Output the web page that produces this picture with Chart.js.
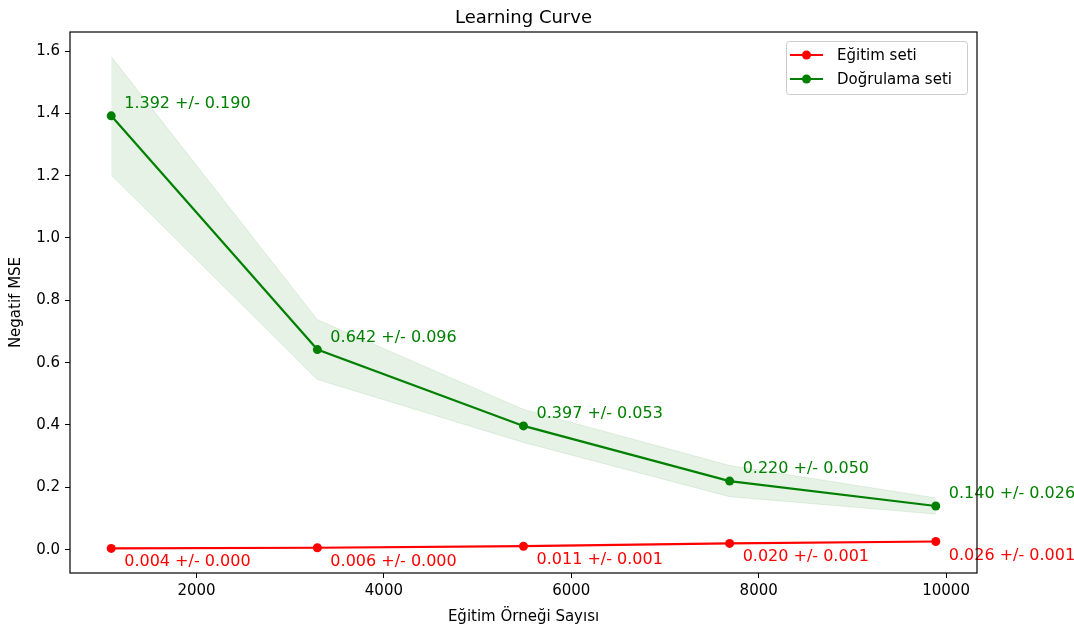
<!DOCTYPE html>
<html lang="tr">
<head>
<meta charset="UTF-8">
<title>Learning Curve</title>
<script src="https://cdn.jsdelivr.net/npm/chart.js@4.4.0/dist/chart.umd.min.js"></script>
<style>
  html, body { margin: 0; padding: 0; background: #fff; }
  #wrap { width: 1074px; height: 633px; position: relative; }
</style>
</head>
<body>
<div id="wrap"><canvas id="lc"></canvas></div>
<script>
// Eğitim örneği sayıları (x ekseni)
const trainSizes = [1090, 3290, 5490, 7690, 9890];

// Eğitim seti: ortalama ve std
const trainMean = [0.004, 0.006, 0.011, 0.020, 0.026];
const trainStd  = [0.000, 0.000, 0.001, 0.001, 0.001];

// Doğrulama seti: ortalama ve std
const valMean = [1.392, 0.642, 0.397, 0.220, 0.140];
const valStd  = [0.190, 0.096, 0.053, 0.050, 0.026];

// eksen işaretleri ve sınırları
const xTicks = [2000, 4000, 6000, 8000, 10000];
const yTicks = [0.0, 0.2, 0.4, 0.6, 0.8, 1.0, 1.2, 1.4, 1.6];
const xLimits = [650, 10330];
const yLimits = [-0.075, 1.661];

const RED = '#ff0000';
const GREEN = '#008000';
const FONT = 'DejaVu Sans';

Chart.defaults.font.family = FONT;
Chart.defaults.font.size = 15;
Chart.defaults.color = '#000';

function pts(xs, ys) {
    return xs.map((x, i) => ({ x: x, y: ys[i] }));
}

function lineSet(label, color, means) {
    return {
        label: label,
        data: pts(trainSizes, means),
        borderColor: color,
        backgroundColor: color,
        borderWidth: 2.2,
        pointRadius: 4.5,
        pointBorderWidth: 0,
        pointBackgroundColor: color,
        fill: false,
        tension: 0,
        order: 0
    };
}

function bandSet(means, stds, sign, fill, rgba) {
    return {
        label: '',
        data: pts(trainSizes, means.map((m, i) => m + sign * stds[i])),
        borderColor: rgba,
        backgroundColor: rgba,
        borderWidth: 1,
        pointRadius: 0,
        fill: fill,
        tension: 0,
        order: 1
    };
}

// açıklamalar, çerçeve, lejant ve başlık
const extras = {
    id: 'extras',
    afterDatasetsDraw(chart) {
        const ctx = chart.ctx;
        const xs = chart.scales.x, ys = chart.scales.y;
        ctx.save();
        ctx.font = '16px "' + FONT + '"';
        ctx.textAlign = 'left';
        ctx.textBaseline = 'alphabetic';
        const annotate = (means, stds, color, dx, dy) => {
            ctx.fillStyle = color;
            means.forEach((m, i) => {
                const px = xs.getPixelForValue(trainSizes[i]);
                const py = ys.getPixelForValue(m);
                ctx.fillText(m.toFixed(3) + ' +/- ' + stds[i].toFixed(3), px + 13, py + dy);
            });
        };
        annotate(valMean, valStd, GREEN, 13, -8);
        annotate(trainMean, trainStd, RED, 13, 18);

        // dört kenar çizgisi
        const a = chart.chartArea;
        ctx.strokeStyle = '#000';
        ctx.lineWidth = 1.2;
        ctx.strokeRect(a.left, a.top, a.right - a.left, a.bottom - a.top);
        ctx.restore();
    },
    afterDraw(chart) {
        const ctx = chart.ctx;
        const a = chart.chartArea;
        ctx.save();
        // başlık
        ctx.fillStyle = '#000';
        ctx.font = '18px "' + FONT + '"';
        ctx.textAlign = 'center';
        ctx.textBaseline = 'alphabetic';
        ctx.fillText('Learning Curve', (a.left + a.right) / 2, 23);

        // lejant
        const bx = 786.5, by = 41.5, bw = 181, bh = 53;
        ctx.beginPath();
        ctx.roundRect(bx, by, bw, bh, 3);
        ctx.fillStyle = 'rgba(255,255,255,0.8)';
        ctx.fill();
        ctx.strokeStyle = '#cccccc';
        ctx.lineWidth = 1;
        ctx.stroke();
        const items = chart.data.datasets.filter(d => d.label);
        ctx.font = '15px "' + FONT + '"';
        ctx.textAlign = 'left';
        ctx.textBaseline = 'middle';
        items.forEach((d, i) => {
            const cy = 55 + i * 24;
            ctx.strokeStyle = d.borderColor;
            ctx.lineWidth = 2.2;
            ctx.beginPath();
            ctx.moveTo(790, cy);
            ctx.lineTo(823, cy);
            ctx.stroke();
            ctx.fillStyle = d.borderColor;
            ctx.beginPath();
            ctx.arc(806.5, cy, 4.5, 0, Math.PI * 2);
            ctx.fill();
            ctx.fillStyle = '#000';
            ctx.fillText(d.label, 837, cy + 1);
        });
        ctx.restore();
    }
};

new Chart(document.getElementById('lc'), {
    type: 'line',
    data: {
        datasets: [
            lineSet('Eğitim seti', RED, trainMean),
            lineSet('Doğrulama seti', GREEN, valMean),
            bandSet(valMean, valStd, 1, '+1', 'rgba(0,128,0,0.1)'),
            bandSet(valMean, valStd, -1, false, 'rgba(0,128,0,0.1)'),
            bandSet(trainMean, trainStd, 1, '+1', 'rgba(255,0,0,0.1)'),
            bandSet(trainMean, trainStd, -1, false, 'rgba(255,0,0,0.1)')
        ]
    },
    options: {
        responsive: true,
        maintainAspectRatio: false,
        animation: false,
        layout: { padding: { left: 0, right: 97, top: 32, bottom: 0 } },
        plugins: {
            legend: { display: false },
            tooltip: { enabled: false },
            title: { display: false }
        },
        scales: {
            x: {
                type: 'linear',
                min: xLimits[0],
                max: xLimits[1],
                afterBuildTicks: s => { s.ticks = xTicks.map(v => ({ value: v })); },
                afterFit: s => { s.height = 60; },
                ticks: { padding: 4, maxRotation: 0, callback: v => String(v) },
                grid: { drawOnChartArea: false, drawTicks: true, tickLength: 5, color: '#000' },
                border: { display: false },
                title: { display: true, text: 'Eğitim Örneği Sayısı', padding: 7, font: { size: 15 } }
            },
            y: {
                type: 'linear',
                min: yLimits[0],
                max: yLimits[1],
                afterBuildTicks: s => { s.ticks = yTicks.map(v => ({ value: v })); },
                afterFit: s => { s.width = 70; },
                ticks: { padding: 5, callback: v => Number(v).toFixed(1) },
                grid: { drawOnChartArea: false, drawTicks: true, tickLength: 5, color: '#000' },
                border: { display: false },
                title: { display: true, text: 'Negatif MSE', padding: 7, font: { size: 15 } }
            }
        }
    },
    plugins: [extras]
});
</script>
</body>
</html>
